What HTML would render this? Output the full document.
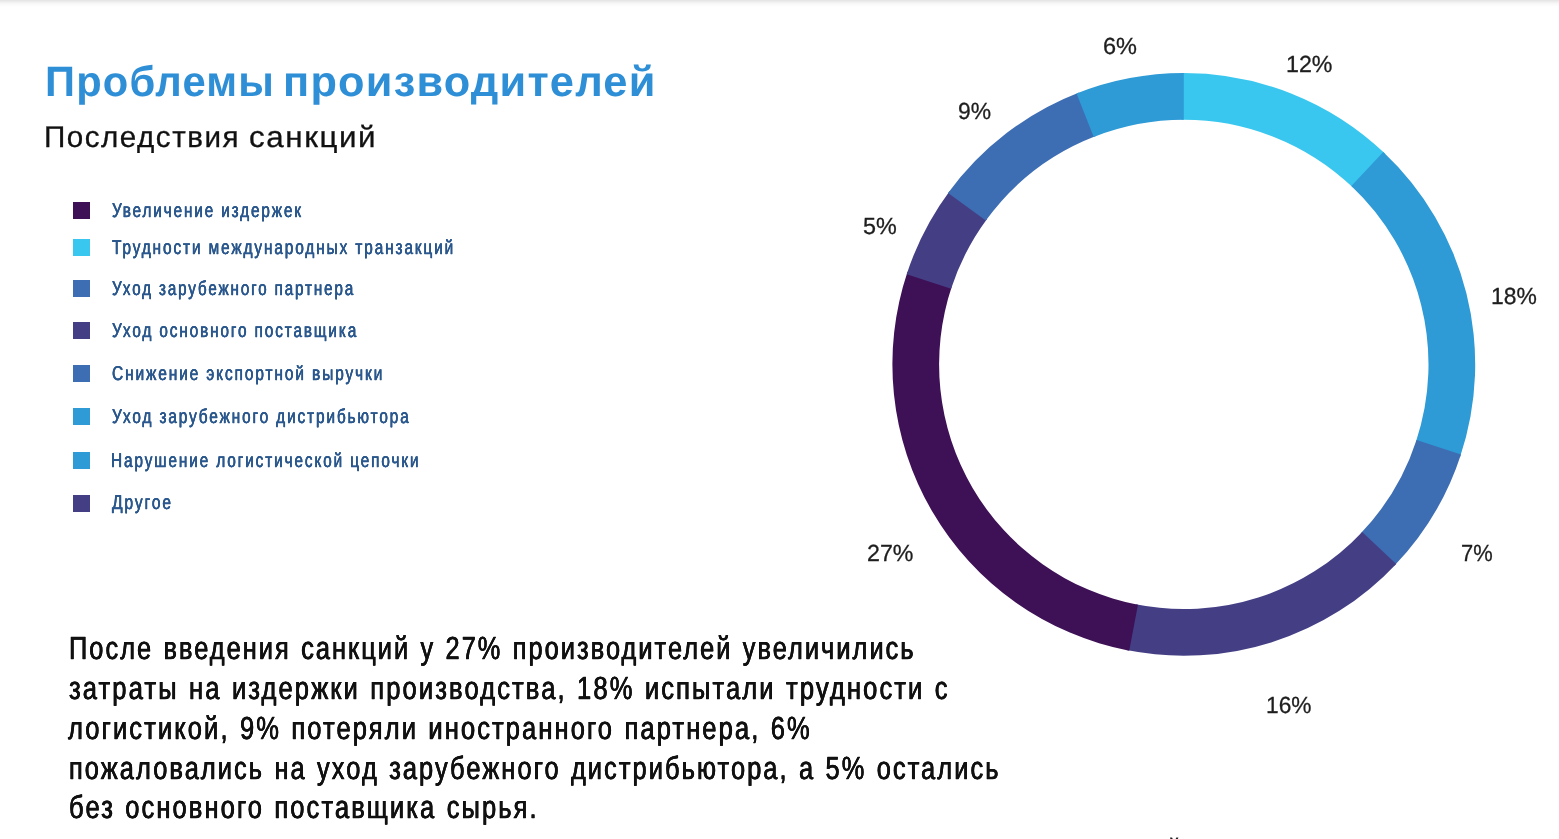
<!DOCTYPE html>
<html lang="ru">
<head>
<meta charset="utf-8">
<title>Проблемы производителей</title>
<style>
html,body{margin:0;padding:0;background:#fff;}
body{width:1559px;height:839px;position:relative;overflow:hidden;font-family:"Liberation Sans",sans-serif;}
.topshadow{position:absolute;left:0;top:0;width:1559px;height:7px;background:linear-gradient(to bottom,rgba(0,0,0,.11),rgba(0,0,0,.03) 50%,rgba(0,0,0,0));}
.t{position:absolute;white-space:nowrap;line-height:1.2;transform-origin:0 0;margin:0;text-rendering:geometricPrecision;}
.title{font-weight:bold;color:#2f8fd6;}
.sub{color:#111;font-weight:normal;-webkit-text-stroke:0.3px #111;}
.leg{color:#2b588d;-webkit-text-stroke:0.3px #2b588d;text-shadow:0.2px 0 0 #2b588d,-0.2px 0 0 #2b588d;}
.para{color:#111;-webkit-text-stroke:0.4px #111;text-shadow:0.35px 0 0 #111,-0.35px 0 0 #111;}
.lab{color:#1e1e1e;-webkit-text-stroke:0.3px #1e1e1e;}
.sq{position:absolute;left:73px;width:17px;height:17px;}
svg{position:absolute;left:0;top:0;}
h1,h2{margin:0;font-size:inherit;font-weight:inherit;}
</style>
</head>
<body>
<div class="topshadow"></div>
<svg width="1559" height="839" viewBox="0 0 1559 839">
<path fill="#3ac7ef" d="M1181.05 73.01A291.4 291.4 0 0 1 1385.27 153.87L1352.98 187.61A244.7 244.7 0 0 0 1181.49 119.71Z"/>
<path fill="#2e9ad6" d="M1383.28 151.98A291.4 291.4 0 0 1 1460.08 457.06L1415.80 442.21A244.7 244.7 0 0 0 1351.31 186.02Z"/>
<path fill="#3d6db3" d="M1460.94 454.45A291.4 291.4 0 0 1 1394.33 565.87L1360.59 533.58A244.7 244.7 0 0 0 1416.52 440.02Z"/>
<path fill="#443f85" d="M1396.22 563.88A291.4 291.4 0 0 1 1126.50 650.11L1135.68 604.32A244.7 244.7 0 0 0 1362.18 531.91Z"/>
<path fill="#3e1056" d="M1129.20 650.64A291.4 291.4 0 0 1 907.52 271.74L951.80 286.59A244.7 244.7 0 0 0 1137.95 604.77Z"/>
<path fill="#443f85" d="M906.66 274.35A291.4 291.4 0 0 1 949.68 190.91L987.20 218.71A244.7 244.7 0 0 0 951.08 288.78Z"/>
<path fill="#3d6db3" d="M948.05 193.12A291.4 291.4 0 0 1 1079.09 92.46L1095.87 136.04A244.7 244.7 0 0 0 985.83 220.57Z"/>
<path fill="#2e9ad6" d="M1076.53 93.46A291.4 291.4 0 0 1 1183.80 73.00L1183.80 119.70A244.7 244.7 0 0 0 1093.72 136.88Z"/>
</svg>
<div class="sq" style="top:202px;background:#3e1056"></div>
<div class="sq" style="top:239px;background:#3ac7ef"></div>
<div class="sq" style="top:280px;background:#3d6db3"></div>
<div class="sq" style="top:322px;background:#443f85"></div>
<div class="sq" style="top:365px;background:#3d6db3"></div>
<div class="sq" style="top:408px;background:#2e9ad6"></div>
<div class="sq" style="top:452px;background:#2e9ad6"></div>
<div class="sq" style="top:495px;background:#443f85"></div>
<h1><span class="t title" id="t1" style="left:45.00px;top:57.00px;font-size:42.5px;letter-spacing:1.2px;transform:scaleX(0.9806)">Проблемы</span> <span class="t title" id="t3" style="left:283.20px;top:57.00px;font-size:42.5px;letter-spacing:1.2px;transform:scaleX(1.0195)">производителей</span></h1>
<h2><span class="t sub" id="t2" style="left:44.40px;top:120.00px;font-size:29.9px;letter-spacing:1.5px;transform:scaleX(0.9907)">Последствия</span> <span class="t sub" id="t4" style="left:249.00px;top:120.00px;font-size:29.9px;letter-spacing:1.5px;transform:scaleX(1.0492)">санкций</span></h2>
<div class="t leg" id="l1" style="left:111.80px;top:199.00px;font-size:20px;letter-spacing:2.4px;transform:scaleX(0.7683)">Увеличение издержек</div>
<div class="t leg" id="l2" style="left:111.80px;top:236.00px;font-size:20px;letter-spacing:2.4px;transform:scaleX(0.7723)">Трудности международных транзакций</div>
<div class="t leg" id="l3" style="left:111.80px;top:277.00px;font-size:20px;letter-spacing:2.4px;transform:scaleX(0.7636)">Уход зарубежного партнера</div>
<div class="t leg" id="l4" style="left:111.80px;top:319.00px;font-size:20px;letter-spacing:2.4px;transform:scaleX(0.7700)">Уход основного поставщика</div>
<div class="t leg" id="l5" style="left:111.80px;top:362.00px;font-size:20px;letter-spacing:2.4px;transform:scaleX(0.7755)">Снижение экспортной выручки</div>
<div class="t leg" id="l6" style="left:111.80px;top:405.00px;font-size:20px;letter-spacing:2.4px;transform:scaleX(0.7712)">Уход зарубежного дистрибьютора</div>
<div class="t leg" id="l7" style="left:110.80px;top:449.00px;font-size:20px;letter-spacing:2.4px;transform:scaleX(0.7708)">Нарушение логистической цепочки</div>
<div class="t leg" id="l8" style="left:111.80px;top:491.00px;font-size:20px;letter-spacing:2.4px;transform:scaleX(0.7817)">Другое</div>
<div class="t para" id="p1" style="left:69.40px;top:629.00px;font-size:32px;letter-spacing:2.6px;word-spacing:1.5px;transform:scaleX(0.7919)">После введения санкций у 27% производителей увеличились</div>
<div class="t para" id="p2" style="left:68.60px;top:669.00px;font-size:32px;letter-spacing:2.6px;word-spacing:1.5px;transform:scaleX(0.7993)">затраты на издержки производства, 18% испытали трудности с</div>
<div class="t para" id="p3" style="left:68.40px;top:709.00px;font-size:32px;letter-spacing:2.6px;word-spacing:1.5px;transform:scaleX(0.7982)">логистикой, 9% потеряли иностранного партнера, 6%</div>
<div class="t para" id="p4" style="left:69.40px;top:749.00px;font-size:32px;letter-spacing:2.6px;word-spacing:1.5px;transform:scaleX(0.7942)">пожаловались на уход зарубежного дистрибьютора, а 5% остались</div>
<div class="t para" id="p5" style="left:69.00px;top:788.00px;font-size:32px;letter-spacing:2.6px;word-spacing:1.5px;transform:scaleX(0.7979)">без основного поставщика сырья.</div>
<div class="t lab" id="c1" style="left:1102.80px;top:33.00px;font-size:23.3px;transform:scaleX(1.0094)">6%</div>
<div class="t lab" id="c2" style="left:1286.40px;top:51.00px;font-size:23.3px;transform:scaleX(0.9957)">12%</div>
<div class="t lab" id="c3" style="left:1490.80px;top:283.00px;font-size:23.3px;transform:scaleX(0.9828)">18%</div>
<div class="t lab" id="c4" style="left:1461.40px;top:540.00px;font-size:23.3px;transform:scaleX(0.9409)">7%</div>
<div class="t lab" id="c5" style="left:1265.80px;top:692.00px;font-size:23.3px;transform:scaleX(0.9757)">16%</div>
<div class="t lab" id="c6" style="left:867.40px;top:540.00px;font-size:23.3px;transform:scaleX(0.9962)">27%</div>
<div class="t lab" id="c7" style="left:863.20px;top:213.00px;font-size:23.3px;transform:scaleX(1.0034)">5%</div>
<div class="t lab" id="c8" style="left:958.20px;top:98.00px;font-size:23.3px;transform:scaleX(0.9823)">9%</div>
<div class="t lab" style="left:1168px;top:834px;font-size:22px">й</div>
</body>
</html>
